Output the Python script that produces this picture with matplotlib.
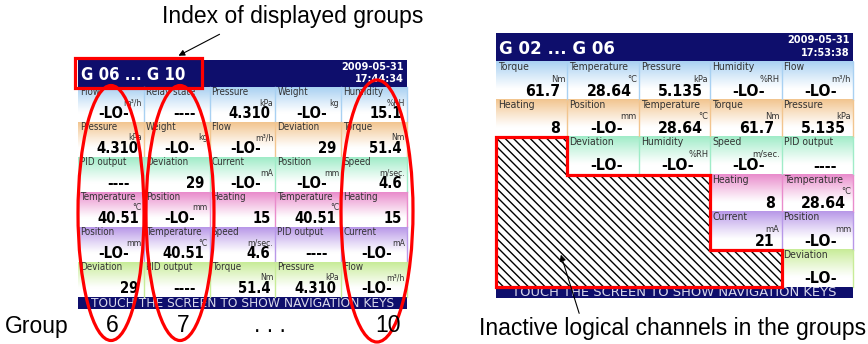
import numpy as np
import matplotlib
matplotlib.use("Agg")
import matplotlib.pyplot as plt
from matplotlib.patches import Rectangle, Ellipse, Polygon

# ---- data ----
units = {"Flow": "m³/h", "Pressure": "kPa", "Weight": "kg", "Humidity": "%RH",
         "Torque": "Nm", "Current": "mA", "Position": "mm", "Speed": "m/sec.",
         "Temperature": "°C"}

left_title = "G 06 ... G 10"
left_stamp = ["2009-05-31", "17:44:34"]
left_names = [
    ["Flow", "Relay state", "Pressure", "Weight", "Humidity"],
    ["Pressure", "Weight", "Flow", "Deviation", "Torque"],
    ["PID output", "Deviation", "Current", "Position", "Speed"],
    ["Temperature", "Position", "Heating", "Temperature", "Heating"],
    ["Position", "Temperature", "Speed", "PID output", "Current"],
    ["Deviation", "PID output", "Torque", "Pressure", "Flow"],
]
left_values = [
    ["-LO-", "----", "4.310", "-LO-", "15.1"],
    ["4.310", "-LO-", "-LO-", "29", "51.4"],
    ["----", "29", "-LO-", "-LO-", "4.6"],
    ["40.51", "-LO-", "15", "40.51", "15"],
    ["-LO-", "40.51", "4.6", "----", "-LO-"],
    ["29", "----", "51.4", "4.310", "-LO-"],
]

right_title = "G 02 ... G 06"
right_stamp = ["2009-05-31", "17:53:38"]
right_names = [
    ["Torque", "Temperature", "Pressure", "Humidity", "Flow"],
    ["Heating", "Position", "Temperature", "Torque", "Pressure"],
    [None, "Deviation", "Humidity", "Speed", "PID output"],
    [None, None, None, "Heating", "Temperature"],
    [None, None, None, "Current", "Position"],
    [None, None, None, None, "Deviation"],
]
right_values = [
    ["61.7", "28.64", "5.135", "-LO-", "-LO-"],
    ["8", "-LO-", "28.64", "61.7", "5.135"],
    [None, "-LO-", "-LO-", "-LO-", "----"],
    [None, None, None, "8", "28.64"],
    [None, None, None, "21", "-LO-"],
    [None, None, None, None, "-LO-"],
]

group_labels = ["6", "7", ". . .", "10"]
footer_text = "TOUCH THE SCREEN TO SHOW NAVIGATION KEYS"

row_colors = ["#a9d1f2", "#f2c58f", "#a0ecc8", "#e98ccc", "#b898e8", "#c8ec98"]
NAVY = "#0e0e6c"
RED = "#ff0000"

fig = plt.figure(figsize=(8.68, 3.44), dpi=100)
ax = fig.add_axes([0, 0, 1, 1])
ax.set_xlim(0, 868)
ax.set_ylim(344, 0)
ax.axis("off")

scr = dict(family="DejaVu Sans", fontstretch="condensed")


def gradient(color):
    t = np.linspace(0, 1, 40)
    f = np.clip(1 - t / 0.75, 0, 1) ** 1.1
    c = np.array(matplotlib.colors.to_rgb(color))
    return (1 - f[:, None]) * 1.0 + f[:, None] * c[None, :]


def draw_screen(left, top, width, head_h, row_h, foot_h, title, stamp,
                names, values, fs, pad):
    col_w = width / 5
    xs = left + col_w * np.arange(6)
    ys = top + head_h + row_h * np.arange(7)
    ax.add_patch(Rectangle((left, top), width, head_h, fc=NAVY, ec="none", zorder=1))
    ax.text(left + 3, top + head_h / 2 + 1, title, color="white", fontsize=12 * fs ** 1.5,
            fontweight="bold", va="center", ha="left", zorder=3, **scr)
    ax.text(left + width - 3, top + 6.5 * fs, stamp[0], color="white", fontsize=7.8,
            fontweight="bold", va="center", ha="right", zorder=3, **scr)
    ax.text(left + width - 3, top + 19 * fs, stamp[1], color="white", fontsize=7.8,
            fontweight="bold", va="center", ha="right", zorder=3, **scr)
    for r in range(6):
        img = gradient(row_colors[r])[:, None, :]
        for c in range(5):
            name = names[r][c]
            if name is None:
                continue
            x0, x1, y0, y1 = xs[c], xs[c + 1], ys[r], ys[r + 1]
            ax.imshow(img, extent=(x0, x1, y1, y0), origin="upper", aspect="auto",
                      interpolation="bilinear", zorder=1)
            ax.plot([x1, x1], [y0, y1], color=row_colors[r], lw=1, zorder=2)
            ax.text(x0 + 2, y0 + 5 * fs, name, fontsize=7.0 * fs, color="#333333",
                    va="center", ha="left", zorder=3, **scr)
            if name in units:
                ax.text(x1 - 2, y0 + 16 * fs, units[name], fontsize=6.2 * fs,
                        color="#333333", va="center", ha="right", zorder=3, **scr)
            v = values[r][c]
            if v.startswith("-"):
                off = 3 if v == "-LO-" else 8
                ax.text((x0 + x1) / 2 + off, y1 - 4, v, fontsize=10.6 * fs,
                        fontweight="bold", ha="center", va="baseline", zorder=3, **scr)
            else:
                ax.text(x1 - pad, y1 - 4, v, fontsize=10.6 * fs, fontweight="bold",
                        ha="right", va="baseline", zorder=3, **scr)
    ax.add_patch(Rectangle((left, ys[-1]), width, foot_h, fc=NAVY, ec="none", zorder=1))
    ax.text(left + width / 2, ys[-1] + foot_h / 2 + 0.5, footer_text, color="#d8d8ea",
            fontsize=8.8 * fs, va="center", ha="center", zorder=3, family="DejaVu Sans")
    return xs, ys


lxs, lys = draw_screen(78, 60, 329, 27, 35, 12, left_title, left_stamp,
                       left_names, left_values, 1.0, 5)
rxs, rys = draw_screen(496, 33, 357, 29, 37.5, 11, right_title, right_stamp,
                       right_names, right_values, 1.07, 7)

# inactive channels: staircase built from the empty cells per row
inactive = [sum(n is None for n in row) for row in right_names]
rows = [r for r, k in enumerate(inactive) if k > 0]
pts = [(rxs[0], rys[rows[0]])]
for r in rows:
    pts += [(rxs[inactive[r]], rys[r]), (rxs[inactive[r]], rys[r + 1])]
pts.append((rxs[0], rys[rows[-1] + 1]))
ax.add_patch(Polygon(pts, closed=True, fc="white", ec="black", lw=0,
                     hatch="\\\\\\\\", zorder=4))
ax.add_patch(Polygon(pts, closed=True, fill=False, ec=RED, lw=2.3, zorder=5))

# red highlights on the left screen
ax.add_patch(Rectangle((75, 58), 127, 30, fill=False, ec=RED, lw=2.3, zorder=5))
for cx, cy, w, h in [(111, 213, 66, 255), (180, 213, 68, 255), (377, 211, 72, 262)]:
    ax.add_patch(Ellipse((cx, cy), w, h, fill=False, ec=RED, lw=2.3, zorder=5))

ann = dict(family="Liberation Sans", fontsize=16.5, color="black")
ax.annotate("", xy=(176, 57), xytext=(222, 33),
            arrowprops=dict(arrowstyle="-|>", color="black", lw=0.8, mutation_scale=9),
            zorder=6)
ax.text(293, 17, "Index of displayed groups", ha="center", va="center", **ann)
ax.text(5, 326, "Group", ha="left", va="center", **ann)
for x, s in zip([112, 183, 270, 388], group_labels):
    ax.text(x, 326, s, ha="center", va="center", zorder=6, **ann)
ax.annotate("", xy=(560, 252), xytext=(580, 316),
            arrowprops=dict(arrowstyle="-|>", color="black", lw=0.8, mutation_scale=9),
            zorder=6)
ax.text(673, 328, "Inactive logical channels in the groups", ha="center",
        va="center", **ann)

fig.savefig("out.png", dpi=100)
